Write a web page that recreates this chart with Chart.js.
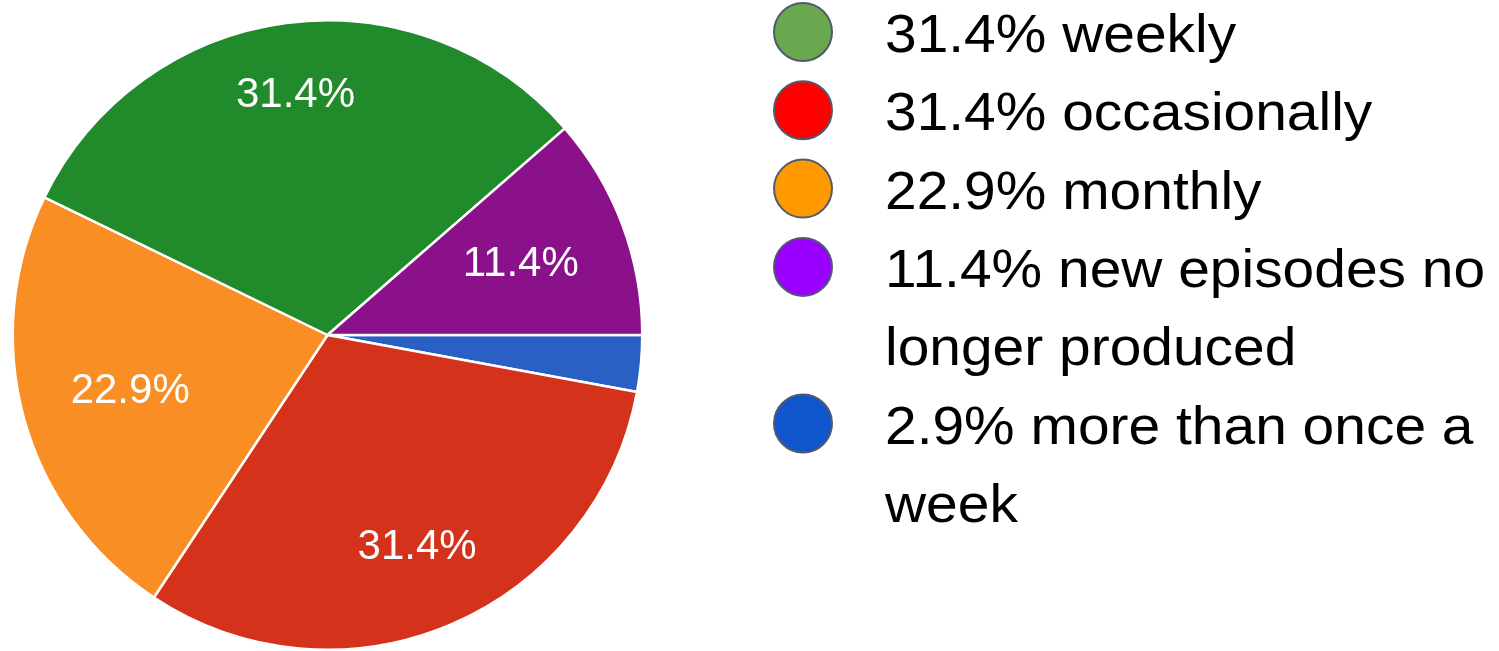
<!DOCTYPE html>
<html>
<head>
<meta charset="utf-8">
<script src="https://cdn.jsdelivr.net/npm/chart.js@4"></script>
<style>
  html, body { margin: 0; padding: 0; background: #ffffff; }
  #wrap { width: 1499px; height: 651px; position: relative; }
</style>
</head>
<body>
<div id="wrap"><canvas id="c" width="1499" height="651"></canvas></div>
<script>
// Slices, clockwise starting from 3 o'clock
const categories = ['more than once a week', 'occasionally', 'monthly', 'weekly', 'new episodes no longer produced'];
const values = [2.9, 31.4, 22.9, 31.4, 11.4];
const sliceColors = ['#2a5fc3', '#d5321c', '#f98e24', '#218a2b', '#8b118a'];

// Legend (its own order and colours)
const legendCategories = ['weekly', 'occasionally', 'monthly', 'new episodes no longer produced', 'more than once a week'];
const legendColors = ['#6aa84f', '#ff0000', '#ff9900', '#9900ff', '#1155cc'];

const FONT = '"Liberation Sans", Arial, Helvetica, sans-serif';

const sliceLabels = {
  id: 'sliceLabels',
  afterDatasetsDraw(chart) {
    const ctx = chart.ctx;
    const meta = chart.getDatasetMeta(0);
    ctx.save();
    ctx.font = '42px ' + FONT;
    ctx.fillStyle = '#ffffff';
    ctx.textAlign = 'center';
    ctx.textBaseline = 'middle';
    meta.data.forEach((arc, i) => {
      const v = values[i];
      if (v < 5) return;
      const p = arc.getProps(['x', 'y', 'startAngle', 'endAngle', 'outerRadius'], true);
      const mid = (p.startAngle + p.endAngle) / 2;
      const c = Math.cos(mid), s = Math.sin(mid);
      const txt = v.toFixed(1) + '%';
      const w = ctx.measureText(txt).width;
      const h = 30;
      const r = p.outerRadius * 0.845 - (w / 2 * Math.abs(c) + h / 2 * Math.abs(s));
      ctx.fillText(txt, p.x + c * r, p.y + s * r + 2);
    });
    ctx.restore();
  }
};

const sideLegend = {
  id: 'sideLegend',
  afterDraw(chart) {
    const ctx = chart.ctx;
    const textX = 885, circleX = 803, circleR = 29;
    const sx = 1.054, maxW = 622;
    const step = 78.3;
    let baseline = 52;
    ctx.save();
    ctx.font = '54px ' + FONT;
    ctx.textBaseline = 'alphabetic';
    ctx.textAlign = 'left';
    legendCategories.forEach((cat, k) => {
      const idx = categories.indexOf(cat);
      const full = values[idx].toFixed(1) + '% ' + cat;
      // wrap
      const words = full.split(' ');
      const lines = [];
      let cur = '';
      words.forEach(wd => {
        const test = cur ? cur + ' ' + wd : wd;
        if (ctx.measureText(test).width * sx > maxW && cur) { lines.push(cur); cur = wd; }
        else cur = test;
      });
      if (cur) lines.push(cur);
      // marker
      ctx.beginPath();
      ctx.arc(circleX, baseline - 20, circleR, 0, Math.PI * 2);
      ctx.fillStyle = legendColors[k];
      ctx.fill();
      ctx.lineWidth = 2;
      ctx.strokeStyle = '#4f5b6c';
      ctx.stroke();
      ctx.fillStyle = '#000000';
      lines.forEach(line => {
        ctx.save();
        ctx.translate(textX, baseline);
        ctx.scale(sx, 1);
        ctx.fillText(line, 0, 0);
        ctx.restore();
        baseline += step;
      });
    });
    ctx.restore();
  }
};

new Chart(document.getElementById('c'), {
  type: 'pie',
  data: {
    labels: categories,
    datasets: [{
      data: values,
      backgroundColor: sliceColors,
      borderColor: '#ffffff',
      borderWidth: 2.5,
      hoverOffset: 0
    }]
  },
  options: {
    responsive: false,
    animation: false,
    devicePixelRatio: 1,
    rotation: 90,
    layout: { padding: { left: 11, top: 19, right: 855, bottom: 0 } },
    plugins: {
      legend: { display: false },
      tooltip: { enabled: false }
    },
    events: []
  },
  plugins: [sliceLabels, sideLegend]
});
</script>
</body>
</html>
